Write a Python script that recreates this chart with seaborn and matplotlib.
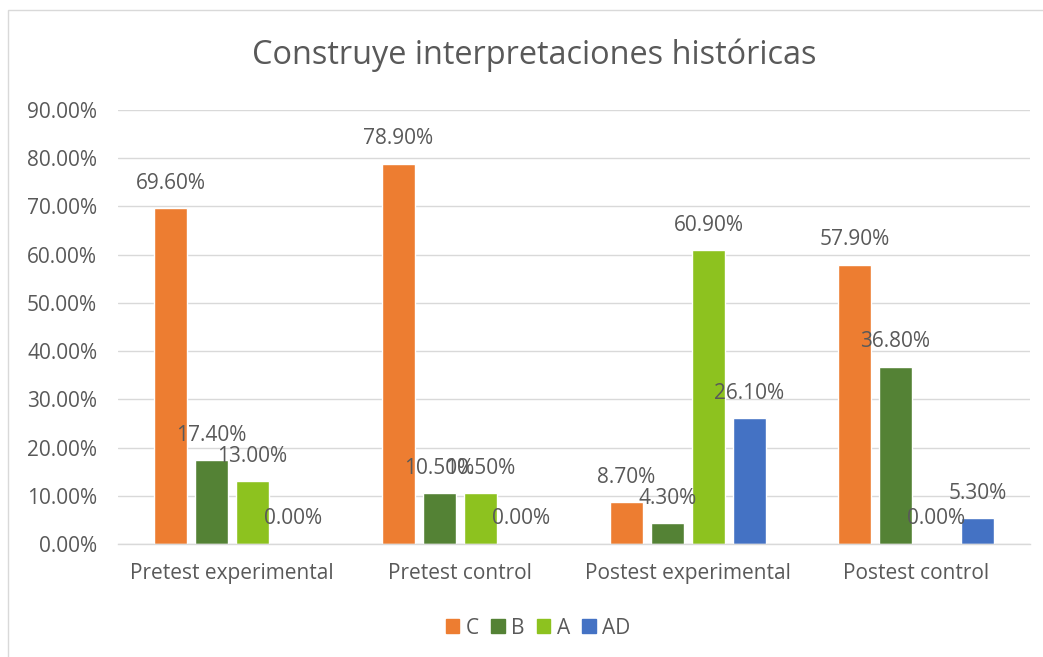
import matplotlib
matplotlib.use("Agg")
import matplotlib.pyplot as plt
import matplotlib.patches as mpatches
from matplotlib.ticker import PercentFormatter
import seaborn as sns
import pandas as pd

categories = ["Pretest experimental", "Pretest control", "Postest experimental", "Postest control"]
series = ["C", "B", "A", "AD"]
values_C = [69.60, 78.90, 8.70, 57.90]
values_B = [17.40, 10.50, 4.30, 36.80]
values_A = [13.00, 10.50, 60.90, 0.00]
values_AD = [0.00, 0.00, 26.10, 5.30]
colors = ["#ED7D31", "#548235", "#8DC21F", "#4472C4"]
title = "Construye interpretaciones históricas"

rows = []
for s, vals in zip(series, [values_C, values_B, values_A, values_AD]):
    for c, v in zip(categories, vals):
        rows.append({"Categoria": c, "Serie": s, "Valor": v})
df = pd.DataFrame(rows)

sns.set_theme(style="white")
plt.rcParams["font.family"] = ["Open Sans", "DejaVu Sans"]
txt = "#595959"

fig = plt.figure(figsize=(10.43, 6.57), dpi=100)
ax = fig.add_axes([118 / 1043, 1 - 544 / 657, (1030 - 118) / 1043, (544 - 110) / 657])

sns.barplot(data=df, x="Categoria", y="Valor", hue="Serie", order=categories,
            hue_order=series, palette=colors, width=0.72, gap=0.19,
            saturation=1, ax=ax, legend=False, errorbar=None)

ax.set_ylim(0, 90)
ax.set_xlim(-0.5, 3.5)
ax.set_yticks(range(0, 91, 10))
ax.yaxis.set_major_formatter(PercentFormatter(decimals=2))
ax.grid(axis="y", color="#D9D9D9", linewidth=1)
ax.set_axisbelow(True)
for sp in ["left", "right", "top"]:
    ax.spines[sp].set_visible(False)
ax.spines["bottom"].set_color("#D9D9D9")
ax.spines["bottom"].set_linewidth(1)
ax.set_xlabel("")
ax.set_ylabel("")
ax.tick_params(axis="y", length=0, pad=15, labelsize=15, labelcolor=txt)
ax.tick_params(axis="x", length=0, pad=14, labelsize=15, labelcolor=txt)

for cont in ax.containers:
    for bar in cont:
        h = bar.get_height()
        ax.annotate(f"{h:.2f}%", (bar.get_x() + bar.get_width() / 2, h),
                    xytext=(0, 18), textcoords="offset points",
                    ha="center", va="center", fontsize=15, color=txt)

fig.text(534 / 1043, 1 - 55 / 657, title, fontsize=23.4, color=txt,
         ha="center", va="center")

handles = [mpatches.Patch(color=c, label=s) for c, s in zip(colors, series)]
fig.legend(handles=handles, loc="center", bbox_to_anchor=(538 / 1043, 1 - 628 / 657),
           ncol=4, frameon=False, fontsize=15, labelcolor=txt, handlelength=0.65,
           handleheight=0.65, handletextpad=0.3, columnspacing=0.6)

fig.patches.append(mpatches.Rectangle((8 / 1043, -0.05), 1.1, 1 - 10 / 657 + 0.05,
                                      transform=fig.transFigure, fill=False,
                                      edgecolor="#D9D9D9", linewidth=1))

fig.savefig("out.png", dpi=100, facecolor="white")
